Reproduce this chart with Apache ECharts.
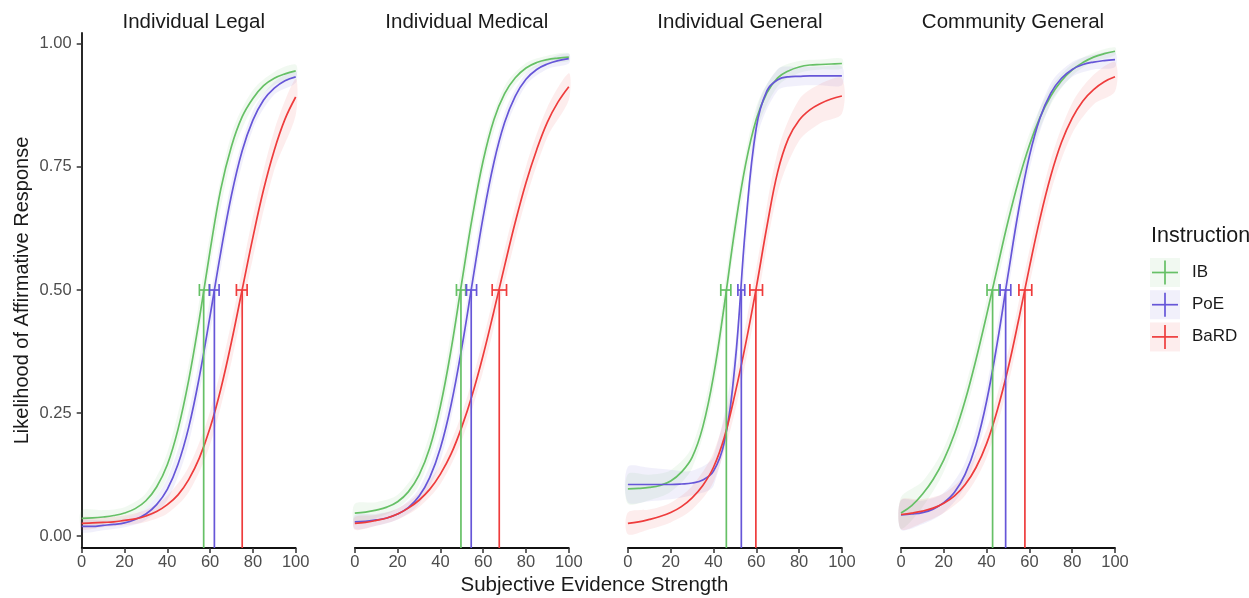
<!DOCTYPE html>
<html lang="en">
<head>
    <meta charset="UTF-8">
    <title>Likelihood of Affirmative Response</title>
    <script src="https://cdn.jsdelivr.net/npm/echarts@6/dist/echarts.min.js"></script>
    <style>
        html, body { margin: 0; padding: 0; background: #fff; }
        #main { width: 1249px; height: 598px; }
    </style>
</head>
<body>
    <div id="main"></div>
    <script type="text/javascript">
        var panels = ['Individual Legal', 'Individual Medical', 'Individual General', 'Community General'];
        var groups = ['IB', 'PoE', 'BaRD'];
        var colors = ['#66c066', '#6656d8', '#ee3c3c'];

        var xs = [0, 5, 10, 15, 20, 25, 30, 35, 40, 45, 50, 55, 60, 65, 70, 75, 80, 85, 90, 95, 100];
        var bandXs = [0, 10, 20, 30, 40, 50, 60, 70, 80, 90, 100];
        var yTicks = [0, 0.25, 0.5, 0.75, 1];

        // fitted curves
        var legalIB = [0.036, 0.037, 0.039, 0.042, 0.047, 0.056, 0.072, 0.100, 0.145, 0.217, 0.317, 0.442, 0.580, 0.705, 0.792, 0.852, 0.889, 0.915, 0.930, 0.939, 0.945];
        var legalPoE = [0.020, 0.020, 0.022, 0.024, 0.027, 0.034, 0.045, 0.064, 0.095, 0.146, 0.221, 0.324, 0.448, 0.577, 0.693, 0.783, 0.845, 0.886, 0.910, 0.925, 0.933];
        var legalBaRD = [0.026, 0.027, 0.028, 0.029, 0.032, 0.035, 0.041, 0.050, 0.064, 0.084, 0.115, 0.159, 0.220, 0.299, 0.395, 0.501, 0.607, 0.704, 0.784, 0.847, 0.892];

        var medicalIB = [0.047, 0.049, 0.053, 0.059, 0.070, 0.090, 0.124, 0.179, 0.264, 0.379, 0.516, 0.650, 0.763, 0.846, 0.899, 0.931, 0.951, 0.962, 0.968, 0.971, 0.973];
        var medicalPoE = [0.029, 0.030, 0.033, 0.037, 0.045, 0.058, 0.081, 0.119, 0.179, 0.267, 0.383, 0.517, 0.649, 0.759, 0.840, 0.894, 0.928, 0.948, 0.959, 0.966, 0.970];
        var medicalBaRD = [0.026, 0.028, 0.032, 0.037, 0.045, 0.057, 0.073, 0.095, 0.126, 0.167, 0.222, 0.289, 0.368, 0.457, 0.549, 0.638, 0.718, 0.785, 0.841, 0.882, 0.913];

        var generalIB = [0.096, 0.097, 0.099, 0.103, 0.112, 0.130, 0.160, 0.222, 0.325, 0.468, 0.624, 0.755, 0.847, 0.901, 0.931, 0.945, 0.953, 0.957, 0.958, 0.959, 0.960];
        var generalPoE = [0.105, 0.105, 0.105, 0.105, 0.105, 0.106, 0.108, 0.114, 0.132, 0.190, 0.347, 0.630, 0.830, 0.905, 0.927, 0.933, 0.934, 0.935, 0.935, 0.935, 0.935];
        var generalBaRD = [0.026, 0.029, 0.034, 0.040, 0.048, 0.060, 0.078, 0.103, 0.140, 0.200, 0.288, 0.390, 0.505, 0.630, 0.740, 0.808, 0.845, 0.866, 0.879, 0.888, 0.894];

        var communityIB = [0.047, 0.062, 0.085, 0.115, 0.155, 0.208, 0.276, 0.358, 0.449, 0.545, 0.639, 0.723, 0.794, 0.851, 0.894, 0.925, 0.947, 0.962, 0.973, 0.980, 0.985];
        var communityPoE = [0.043, 0.045, 0.048, 0.055, 0.068, 0.089, 0.126, 0.185, 0.274, 0.393, 0.530, 0.663, 0.772, 0.850, 0.900, 0.930, 0.948, 0.958, 0.963, 0.966, 0.968];
        var communityBaRD = [0.044, 0.047, 0.051, 0.057, 0.067, 0.082, 0.105, 0.139, 0.188, 0.256, 0.340, 0.440, 0.546, 0.646, 0.732, 0.800, 0.849, 0.884, 0.907, 0.923, 0.933];

        // ribbon half widths at bandXs
        var legalIBse = [0.017, 0.014, 0.012, 0.015, 0.025, 0.033, 0.033, 0.025, 0.017, 0.013, 0.013];
        var legalPoEse = [0.012, 0.010, 0.009, 0.012, 0.022, 0.032, 0.035, 0.028, 0.018, 0.013, 0.012];
        var legalBaRDse = [0.012, 0.010, 0.010, 0.012, 0.018, 0.026, 0.034, 0.040, 0.042, 0.040, 0.037];
        var medicalIBse = [0.019, 0.016, 0.014, 0.020, 0.030, 0.032, 0.025, 0.015, 0.010, 0.008, 0.008];
        var medicalPoEse = [0.014, 0.012, 0.011, 0.016, 0.027, 0.033, 0.030, 0.020, 0.012, 0.010, 0.010];
        var medicalBaRDse = [0.013, 0.011, 0.011, 0.014, 0.020, 0.027, 0.032, 0.034, 0.033, 0.030, 0.027];
        var generalIBse = [0.030, 0.026, 0.022, 0.022, 0.030, 0.030, 0.025, 0.017, 0.012, 0.010, 0.010];
        var generalPoEse = [0.036, 0.034, 0.030, 0.025, 0.030, 0.035, 0.030, 0.022, 0.019, 0.019, 0.019];
        var generalBaRDse = [0.022, 0.020, 0.020, 0.024, 0.030, 0.036, 0.040, 0.042, 0.042, 0.040, 0.036];
        var communityIBse = [0.032, 0.026, 0.024, 0.026, 0.030, 0.030, 0.024, 0.017, 0.012, 0.009, 0.008];
        var communityPoEse = [0.030, 0.024, 0.020, 0.024, 0.030, 0.032, 0.028, 0.020, 0.015, 0.015, 0.015];
        var communityBaRDse = [0.030, 0.024, 0.020, 0.022, 0.028, 0.033, 0.035, 0.033, 0.031, 0.030, 0.030];

        // 50% thresholds with their intervals, one value per panel
        var thrIB = [57.0, 49.6, 46.0, 42.8];
        var thrIBlo = [55.0, 47.5, 43.4, 40.2];
        var thrIBhi = [59.7, 51.8, 48.1, 45.8];
        var thrPoE = [62.0, 54.4, 53.0, 48.9];
        var thrPoElo = [59.7, 52.2, 51.4, 46.3];
        var thrPoEhi = [64.2, 56.9, 54.6, 51.3];
        var thrBaRD = [75.0, 67.5, 59.8, 57.9];
        var thrBaRDlo = [72.3, 64.2, 57.0, 55.1];
        var thrBaRDhi = [77.3, 70.9, 62.9, 61.1];

        var curves = [
            [legalIB, legalPoE, legalBaRD],
            [medicalIB, medicalPoE, medicalBaRD],
            [generalIB, generalPoE, generalBaRD],
            [communityIB, communityPoE, communityBaRD]
        ];
        var bands = [
            [legalIBse, legalPoEse, legalBaRDse],
            [medicalIBse, medicalPoEse, medicalBaRDse],
            [generalIBse, generalPoEse, generalBaRDse],
            [communityIBse, communityPoEse, communityBaRDse]
        ];
        var thr = [
            [thrIB, thrIBlo, thrIBhi],
            [thrPoE, thrPoElo, thrPoEhi],
            [thrBaRD, thrBaRDlo, thrBaRDhi]
        ];

        var font = 'Liberation Sans';
        var yMin = -0.024, yMax = 1.022;
        var lefts = [81.7, 354.8, 627.9, 901.0];
        var panelW = 214;

        function rgba(hex, a) {
            var n = parseInt(hex.slice(1), 16);
            return 'rgba(' + (n >> 16) + ',' + ((n >> 8) & 255) + ',' + (n & 255) + ',' + a + ')';
        }

        function ribbon(pts, color) {
            return function (params, api) {
                if (params.dataIndex !== 0) return null;
                var up = pts.map(function (p) { return api.coord([p[0], p[2]]); });
                var dn = pts.map(function (p) { return api.coord([p[0], p[1]]); }).reverse();
                return {
                    type: 'polygon',
                    shape: { points: up.concat(dn), smooth: 0.3 },
                    style: { fill: rgba(color, 0.09) }
                };
            };
        }

        function errbar(color) {
            return function (params, api) {
                var x = api.value(0), lo = api.value(1), hi = api.value(2);
                var b = api.coord([x, yMin]), t = api.coord([x, 0.5]);
                var l = api.coord([lo, 0.5]), r = api.coord([hi, 0.5]);
                var st = { stroke: color, lineWidth: 1.7 };
                return {
                    type: 'group',
                    children: [
                        { type: 'line', shape: { x1: b[0], y1: b[1], x2: t[0], y2: t[1] }, style: st },
                        { type: 'line', shape: { x1: l[0], y1: l[1], x2: r[0], y2: r[1] }, style: st },
                        { type: 'line', shape: { x1: l[0], y1: l[1] - 6, x2: l[0], y2: l[1] + 6 }, style: st },
                        { type: 'line', shape: { x1: r[0], y1: r[1] - 6, x2: r[0], y2: r[1] + 6 }, style: st }
                    ]
                };
            };
        }

        var grid = [], xAxis = [], yAxis = [], series = [], titles = [];
        panels.forEach(function (name, i) {
            grid.push({ left: lefts[i], top: 33, width: panelW, height: 515 });
            titles.push({
                text: name, left: lefts[i] + panelW / 2, top: 7, textAlign: 'center',
                textStyle: { fontFamily: font, fontSize: 20.5, fontWeight: 'normal', color: '#1a1a1a' }
            });
            xAxis.push({
                gridIndex: i, type: 'value', min: 0, max: 100, interval: 20,
                axisLine: { show: true, onZero: false, lineStyle: { color: '#111', width: 1.8 } },
                axisTick: { show: true, length: 5, lineStyle: { color: '#333', width: 1.5 } },
                axisLabel: { color: '#4d4d4d', fontSize: 16.5, margin: 6, fontFamily: font },
                splitLine: { show: false }
            });
            yAxis.push({
                gridIndex: i, type: 'value', min: yMin, max: yMax,
                name: i === 0 ? 'Likelihood of Affirmative Response' : '',
                nameLocation: 'middle', nameGap: 49,
                nameTextStyle: { fontFamily: font, fontSize: 20, color: '#1a1a1a' },
                axisLine: { show: i === 0, onZero: false, lineStyle: { color: '#111', width: 1.8 } },
                axisTick: { show: i === 0, length: 5, customValues: yTicks, lineStyle: { color: '#333', width: 1.5 } },
                axisLabel: {
                    show: i === 0, customValues: yTicks, color: '#4d4d4d', fontSize: 16.5, margin: 10, fontFamily: font,
                    formatter: function (v) { return v.toFixed(2); }
                },
                splitLine: { show: false }
            });

            groups.forEach(function (g, k) {
                var vals = curves[i][k], se = bands[i][k];
                var pts = bandXs.map(function (x, j) {
                    var c = vals[xs.indexOf(x)];
                    return [x, c - se[j], c + se[j]];
                });
                series.push({
                    type: 'custom', name: g, xAxisIndex: i, yAxisIndex: i, z: 1, silent: true,
                    data: pts, renderItem: ribbon(pts, colors[k])
                });
            });
            groups.forEach(function (g, k) {
                series.push({
                    type: 'line', name: g, xAxisIndex: i, yAxisIndex: i, z: 2, silent: true,
                    smooth: 0.4, showSymbol: false,
                    lineStyle: { color: colors[k], width: 1.7 },
                    data: xs.map(function (x, j) { return [x, curves[i][k][j]]; })
                });
            });
            groups.forEach(function (g, k) {
                series.push({
                    type: 'custom', name: g, xAxisIndex: i, yAxisIndex: i, z: 3, silent: true,
                    data: [[thr[k][0][i], thr[k][1][i], thr[k][2][i]]],
                    renderItem: errbar(colors[k])
                });
            });
        });

        // legend drawn by hand: ribbon swatch with a cross
        var graphic = [
            { type: 'text', left: 598.5 - 138, top: 575, style: { text: 'Subjective Evidence Strength', font: '20.5px "Liberation Sans"', fill: '#1a1a1a' } },
            { type: 'text', left: 1151, top: 225, style: { text: 'Instruction', font: '21.5px "Liberation Sans"', fill: '#1a1a1a' } }
        ];
        groups.forEach(function (g, k) {
            var cy = 272.5 + k * 32.2;
            graphic.push({ type: 'rect', shape: { x: 1150, y: cy - 14.5, width: 30, height: 29 }, style: { fill: rgba(colors[k], 0.09) } });
            graphic.push({ type: 'line', shape: { x1: 1152, y1: cy, x2: 1178, y2: cy }, style: { stroke: colors[k], lineWidth: 1.7 } });
            graphic.push({ type: 'line', shape: { x1: 1165, y1: cy - 12, x2: 1165, y2: cy + 12 }, style: { stroke: colors[k], lineWidth: 1.7 } });
            graphic.push({ type: 'text', left: 1192, top: cy - 9, style: { text: g, font: '17px "Liberation Sans"', fill: '#1a1a1a' } });
        });

        var myChart = echarts.init(document.getElementById('main'));
        myChart.setOption({
            backgroundColor: '#fff',
            animation: false,
            textStyle: { fontFamily: font },
            title: titles,
            grid: grid,
            xAxis: xAxis,
            yAxis: yAxis,
            series: series,
            graphic: graphic
        });
    </script>
</body>
</html>
